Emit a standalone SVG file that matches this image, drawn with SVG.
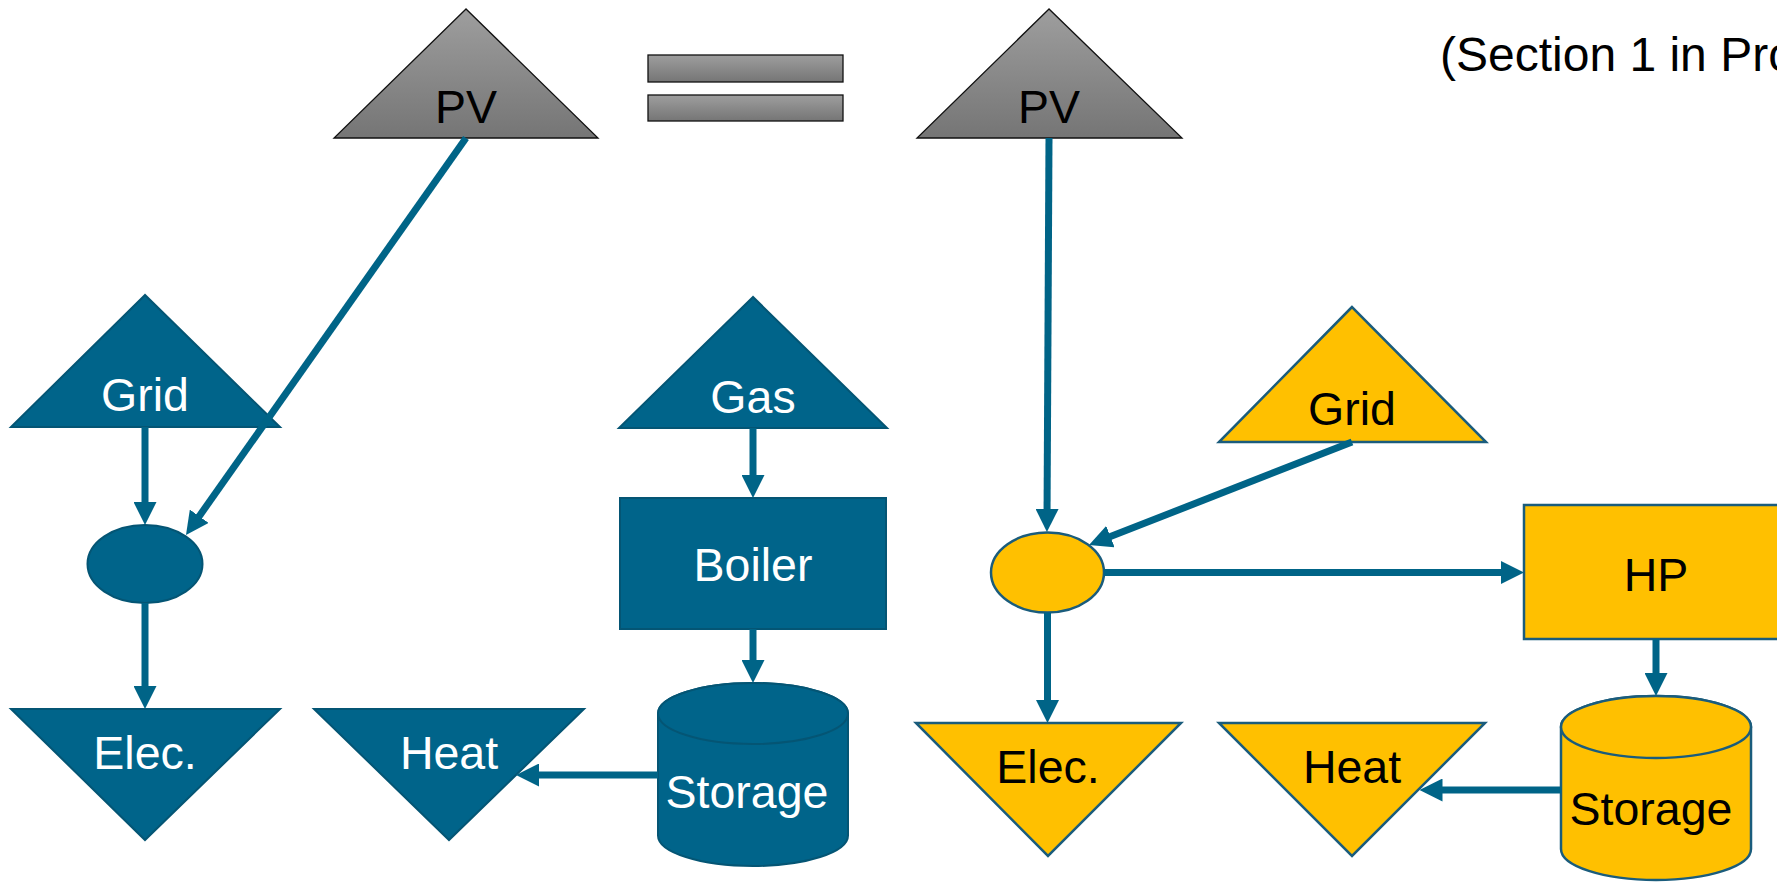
<svg xmlns="http://www.w3.org/2000/svg" width="1777" height="882" viewBox="0 0 1777 882">
<style>
.blue{fill:#00648A;stroke:#045574;stroke-width:2}
.yel{fill:#FFC000;stroke:#1A5C7C;stroke-width:2.5}
.grey{fill:url(#gg);stroke:#111;stroke-width:1.3}
.lbl{font-family:"Liberation Sans",Arial,sans-serif;font-size:46.5px;text-anchor:middle}
.w{fill:#fff}
.k{fill:#000}
.conn{stroke:#006487;stroke-width:7;fill:none;marker-end:url(#ah)}
</style>
<defs>
<linearGradient id="gg" x1="0" y1="0" x2="0" y2="1">
<stop offset="0" stop-color="#9e9e9e"/>
<stop offset="1" stop-color="#757575"/>
</linearGradient>
<marker id="ah" viewBox="0 0 23 23" markerWidth="23" markerHeight="23" refX="11" refY="11.5" orient="auto" markerUnits="userSpaceOnUse">
<path d="M0,0 L23,11.5 L0,23 Z" fill="#006487"/>
</marker>
</defs>
<rect width="1777" height="882" fill="#fff"/>

<g id="pv-left">
<polygon class="grey" points="466,9 334,138 598,138"/>
<text class="lbl k" x="466" y="123">PV</text>
</g>
<g id="equals">
<rect class="grey" x="648" y="55" width="195" height="27"/>
<rect class="grey" x="648" y="95" width="195" height="26"/>
</g>
<g id="pv-right">
<polygon class="grey" points="1049,9 917,138 1182,138"/>
<text class="lbl k" x="1049" y="123">PV</text>
</g>
<g id="note">
<text x="1440" y="71" style="font-family:'Liberation Sans',Arial,sans-serif;font-size:48px" fill="#000">(Section 1 in Pro</text>
</g>

<g id="grid-left">
<polygon class="blue" points="145,295 11,427 280,427"/>
<text class="lbl w" x="145" y="411">Grid</text>
</g>
<g id="bus-left">
<ellipse class="blue" cx="145" cy="564" rx="57.5" ry="39"/>
</g>
<g id="elec-left">
<polygon class="blue" points="11,709 280,709 145,840"/>
<text class="lbl w" x="145" y="769">Elec.</text>
</g>
<g id="gas">
<polygon class="blue" points="753,297 619,428 887,428"/>
<text class="lbl w" x="753" y="413">Gas</text>
</g>
<g id="boiler">
<rect class="blue" x="620" y="498" width="266" height="131"/>
<text class="lbl w" x="753" y="581">Boiler</text>
</g>
<g id="storage-left">
<path class="blue" d="M658,713.5 L658,835.5 A95,30.5 0 0 0 848,835.5 L848,713.5 A95,30.5 0 0 0 658,713.5 Z"/>
<ellipse class="blue" cx="753" cy="713.5" rx="95" ry="30.5"/>
<text class="lbl w" x="747" y="808">Storage</text>
</g>
<g id="heat-left">
<polygon class="blue" points="314,709 584,709 449,840"/>
<text class="lbl w" x="449" y="769">Heat</text>
</g>

<g id="grid-right">
<polygon class="yel" points="1352,307 1219,442 1486,442"/>
<text class="lbl k" x="1352" y="425">Grid</text>
</g>
<g id="bus-right">
<ellipse class="yel" cx="1047.5" cy="572.5" rx="56.5" ry="40"/>
</g>
<g id="hp">
<rect class="yel" x="1524" y="505" width="266" height="134"/>
<text class="lbl k" x="1656" y="591">HP</text>
</g>
<g id="storage-right">
<path class="yel" d="M1561,727 L1561,849 A95,31 0 0 0 1751,849 L1751,727 A95,31 0 0 0 1561,727 Z"/>
<ellipse class="yel" cx="1656" cy="727" rx="95" ry="31"/>
<text class="lbl k" x="1651" y="825">Storage</text>
</g>
<g id="elec-right">
<polygon class="yel" points="916,723 1181,723 1048,856"/>
<text class="lbl k" x="1048" y="783">Elec.</text>
</g>
<g id="heat-right">
<polygon class="yel" points="1219,723 1485,723 1352,856"/>
<text class="lbl k" x="1352" y="783">Heat</text>
</g>

<g id="connectors">
<line class="conn" x1="466" y1="138" x2="192.9" y2="525.2"/>
<line class="conn" x1="145" y1="427" x2="145" y2="513"/>
<line class="conn" x1="145" y1="603" x2="145" y2="697"/>
<line class="conn" x1="753" y1="428" x2="753" y2="486"/>
<line class="conn" x1="753" y1="629" x2="753" y2="671"/>
<line class="conn" x1="658" y1="775" x2="528" y2="775"/>
<line class="conn" x1="1049" y1="138" x2="1047" y2="520"/>
<line class="conn" x1="1352" y1="442" x2="1100.2" y2="540.6"/>
<line class="conn" x1="1104" y1="572.5" x2="1512" y2="572.5"/>
<line class="conn" x1="1047.5" y1="612.5" x2="1047.5" y2="711"/>
<line class="conn" x1="1656" y1="639" x2="1656" y2="684"/>
<line class="conn" x1="1561" y1="790" x2="1431.5" y2="790"/>
</g>
</svg>
